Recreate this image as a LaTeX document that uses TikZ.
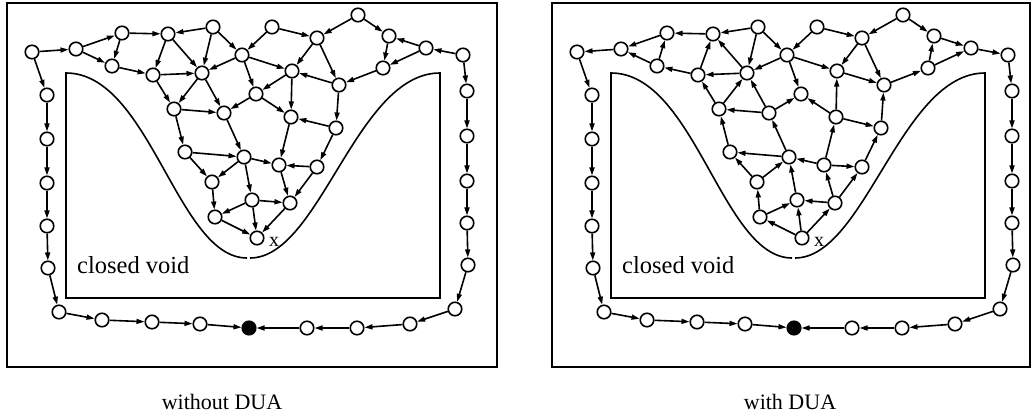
\documentclass[tikz,border=0pt]{standalone}
\usepackage{fontspec}
\setmainfont{Liberation Serif}
\usetikzlibrary{arrows.meta}

% vertex positions of one routing panel (pixel-like units, y downwards)
\newcommand\placevertices[1]{%
  \foreach \n/\px/\py in {
    A1/32/52, A2/76/49, A3/122/33, A4/112/66, A5/168/34, A6/213/27,
    A7/242/55, A8/153/75, A9/202/73, A10/256/94, A11/174/109, A12/224/113,
    A13/185/152, A14/244/157, A15/212/182,
    B1/272/27, B2/317/38, B3/292/71, B4/339/85, B5/291/117, B6/336/128,
    B7/279/165, B8/317/167, B9/358/15, B10/389/36, B11/426/48, B12/463/55,
    B13/383/68, C1/252/200, C2/290/203, C3/215/217, X/257/238,
    L1/47/95, L2/47/139, L3/47/183, L4/47/226, L5/48/268, L6/59/312,
    D1/102/320, D2/152/322, D3/200/324, D5/307/328, D6/357/328, D7/410/324,
    R6/455/309, R5/468/265, R4/467/223, R3/467/181, R2/467/136, R1/467/91}
    {\node[vtx] (#1\n) at (\px,\py) {};}
  \node[sink] (#1F) at (249,328) {};
}

% the closed void: a box whose top is pushed down into a trough
\newcommand\voidoutline{%
  \draw[wall] (247,258) .. controls (177,258) and (150,73) .. (66,73)
              -- (66,298) -- (440,298) -- (440,73)
              .. controls (356,73) and (320,258) .. (250,258);
}

\begin{document}
\begin{tikzpicture}[x=1pt,y=-1pt,
  vtx/.style={circle,draw,line width=1.6pt,fill=white,inner sep=0pt,minimum size=13.5pt},
  sink/.style={vtx,fill=black},
  link/.style={line width=1.6pt,-{Triangle[length=8pt,width=5pt]}},
  frame/.style={line width=1.8pt},
  wall/.style={line width=1.6pt},
  txt/.style={inner sep=0pt,font=\fontsize{22}{26}\selectfont},
  voidtxt/.style={inner sep=0pt,anchor=base west,font=\fontsize{24.5}{28}\selectfont}]
\useasboundingbox (0,0) rectangle (1033,418);

% ---------- panel without DUA ----------
\draw[frame] (7,3) rectangle (497,367);
\voidoutline
\node[voidtxt] (lvoid) at (77,273) {closed void};
\placevertices{l}
\node[txt,font=\fontsize{20}{24}\selectfont,anchor=base west] (lx) at (269,246) {x};
\foreach \s/\t in {
  A1/A2, A1/L1, L1/L2, L2/L3, L3/L4, L4/L5, L5/L6, L6/D1, D1/D2, D2/D3, D3/F,
  D5/F, D6/D5, D7/D6, R6/D7, R5/R6, R4/R5, R3/R4, R2/R3, R1/R2, B12/R1,
  B12/B11, B11/B10, B11/B13, B10/B13, B9/B10, B9/B2, B13/B4, B1/B2, B2/B3,
  B2/B4, B4/B3, B4/B6, B3/B5, B3/A10, A7/B3, B6/B5, B5/B7, B6/B8, B8/B7,
  A14/B7, B7/C2, B8/C2, B1/A7, A6/A7, A6/A5, A6/A9, A7/A9, A7/A10, A10/A12,
  A10/B5, A5/A8, A5/A9, A8/A9, A8/A11, A9/A11, A9/A12, A11/A12, A11/A13,
  A12/A14, A13/A14, A13/A15, A14/A15, A14/C1, A15/C3, C1/C3, C1/C2, C1/X,
  C3/X, C2/X, A2/A3, A2/A4, A3/A4, A3/A5, A4/A8}
  {\draw[link] (l\s) -- (l\t);}
\node[txt] (lcap) at (222,402) {without DUA};

% ---------- panel with DUA ----------
\begin{scope}[xshift=545pt]
  \draw[frame] (7,3) rectangle (485,367);
  \voidoutline
  \node[voidtxt] (rvoid) at (77,273) {closed void};
  \placevertices{r}
  \node[txt,font=\fontsize{20}{24}\selectfont,anchor=base west] (rx) at (269,246) {x};
  \node[txt] (rcap) at (245,402) {with DUA};
\end{scope}
\foreach \s/\t in {
  A2/A1, A1/L1, L1/L2, L2/L3, L3/L4, L4/L5, L5/L6, L6/D1, D1/D2, D2/D3, D3/F,
  D5/F, D6/D5, D7/D6, R6/D7, R5/R6, R4/R5, R3/R4, R2/R3, R1/R2, B12/R1,
  B11/B12, B10/B11, B13/B11, B13/B10, B9/B10, B9/B2, B4/B13, B1/B2, B2/B3,
  B2/B4, B3/B4, B6/B4, B5/B3, B5/A10, A7/B3, B5/B6, B7/B5, B8/B6, B7/B8,
  B7/A14, C2/B7, C2/B8, B1/A7, A6/A7, A6/A5, A6/A9, A7/A9, A7/A10, A12/A10,
  A9/A5, A8/A5, A9/A8, A11/A8, A11/A9, A12/A9, A12/A11, A13/A11, A14/A12,
  A14/A13, A15/A13, A15/A14, C1/A14, C3/A15, C3/C1, C2/C1, X/C1, X/C3, X/C2,
  A3/A2, A4/A2, A4/A3, A5/A3, A8/A4}
  {\draw[link] (r\s) -- (r\t);}
\end{tikzpicture}
\end{document}
